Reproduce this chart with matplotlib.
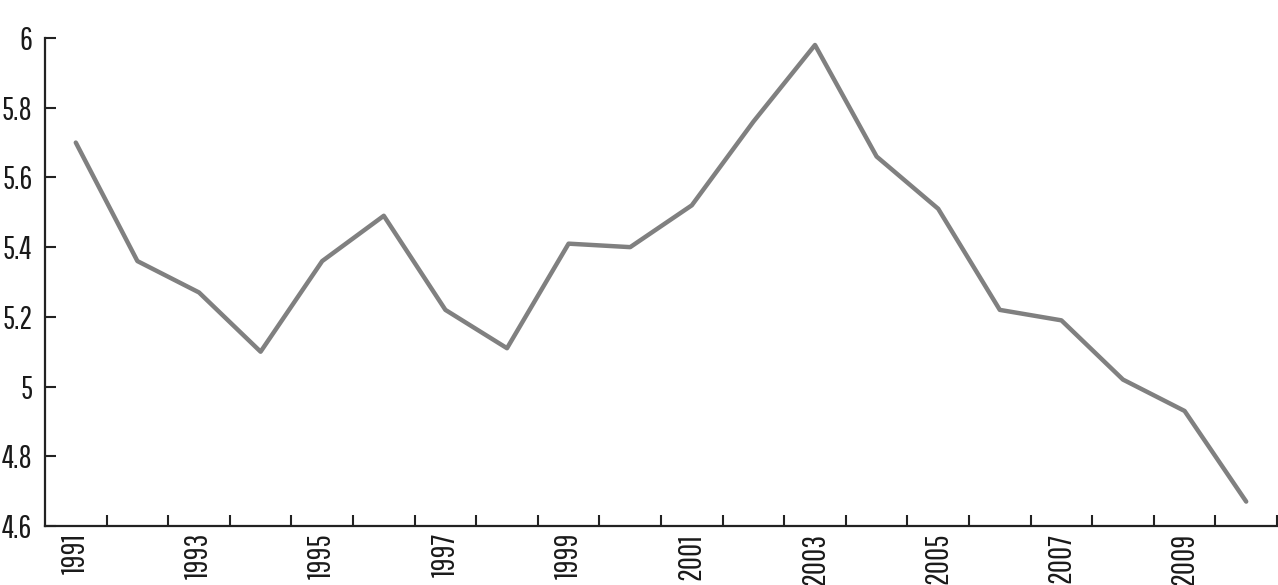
import matplotlib
matplotlib.use("Agg")
import matplotlib.pyplot as plt
from matplotlib import font_manager

years = list(range(1991, 2011))
values = [5.70, 5.36, 5.27, 5.10, 5.36, 5.49, 5.22, 5.11, 5.41, 5.40,
          5.52, 5.76, 5.98, 5.66, 5.51, 5.22, 5.19, 5.02, 4.93, 4.67]
y_ticks = [4.6, 4.8, 5.0, 5.2, 5.4, 5.6, 5.8, 6.0]
y_labels = ["4.6", "4.8", "5", "5.2", "5.4", "5.6", "5.8", "6"]

# narrow sans to stand in for the condensed face of the original
names = {f.name for f in font_manager.fontManager.ttflist}
family = next((f for f in ["Pathway Gothic One", "Abel"] if f in names), "DejaVu Sans")
plt.rcParams["font.family"] = [family, "DejaVu Sans"]

fig = plt.figure(figsize=(12.78, 5.85), dpi=100)
ax = fig.add_axes([45 / 1278, 1 - 526 / 585, 1232 / 1278, 488 / 585])

x = list(range(len(years)))
ax.plot(x, values, color="#808080", linewidth=3.2, solid_capstyle="round")

ax.set_xlim(-0.5, len(years) - 0.5)
ax.set_ylim(4.6, 6.0)

ax.set_yticks(y_ticks)
ax.set_yticklabels(y_labels, fontsize=23, color="#1a1a1a")
ax.set_xticks(x[::2])
ax.set_xticklabels([str(y) for y in years[::2]], rotation=90, fontsize=23, color="#1a1a1a")
ax.set_xticks([i + 0.5 for i in x], minor=True)

ax.tick_params(axis="x", which="major", length=0, pad=5)
ax.tick_params(axis="x", which="minor", direction="in", length=8, width=1.5, color="#222222")
ax.tick_params(axis="y", direction="in", length=8, width=1.5, color="#222222", pad=9)

for side in ["top", "right"]:
    ax.spines[side].set_visible(False)
for side in ["left", "bottom"]:
    ax.spines[side].set_linewidth(1.6)
    ax.spines[side].set_color("#222222")

fig.savefig("out.png", dpi=100)
